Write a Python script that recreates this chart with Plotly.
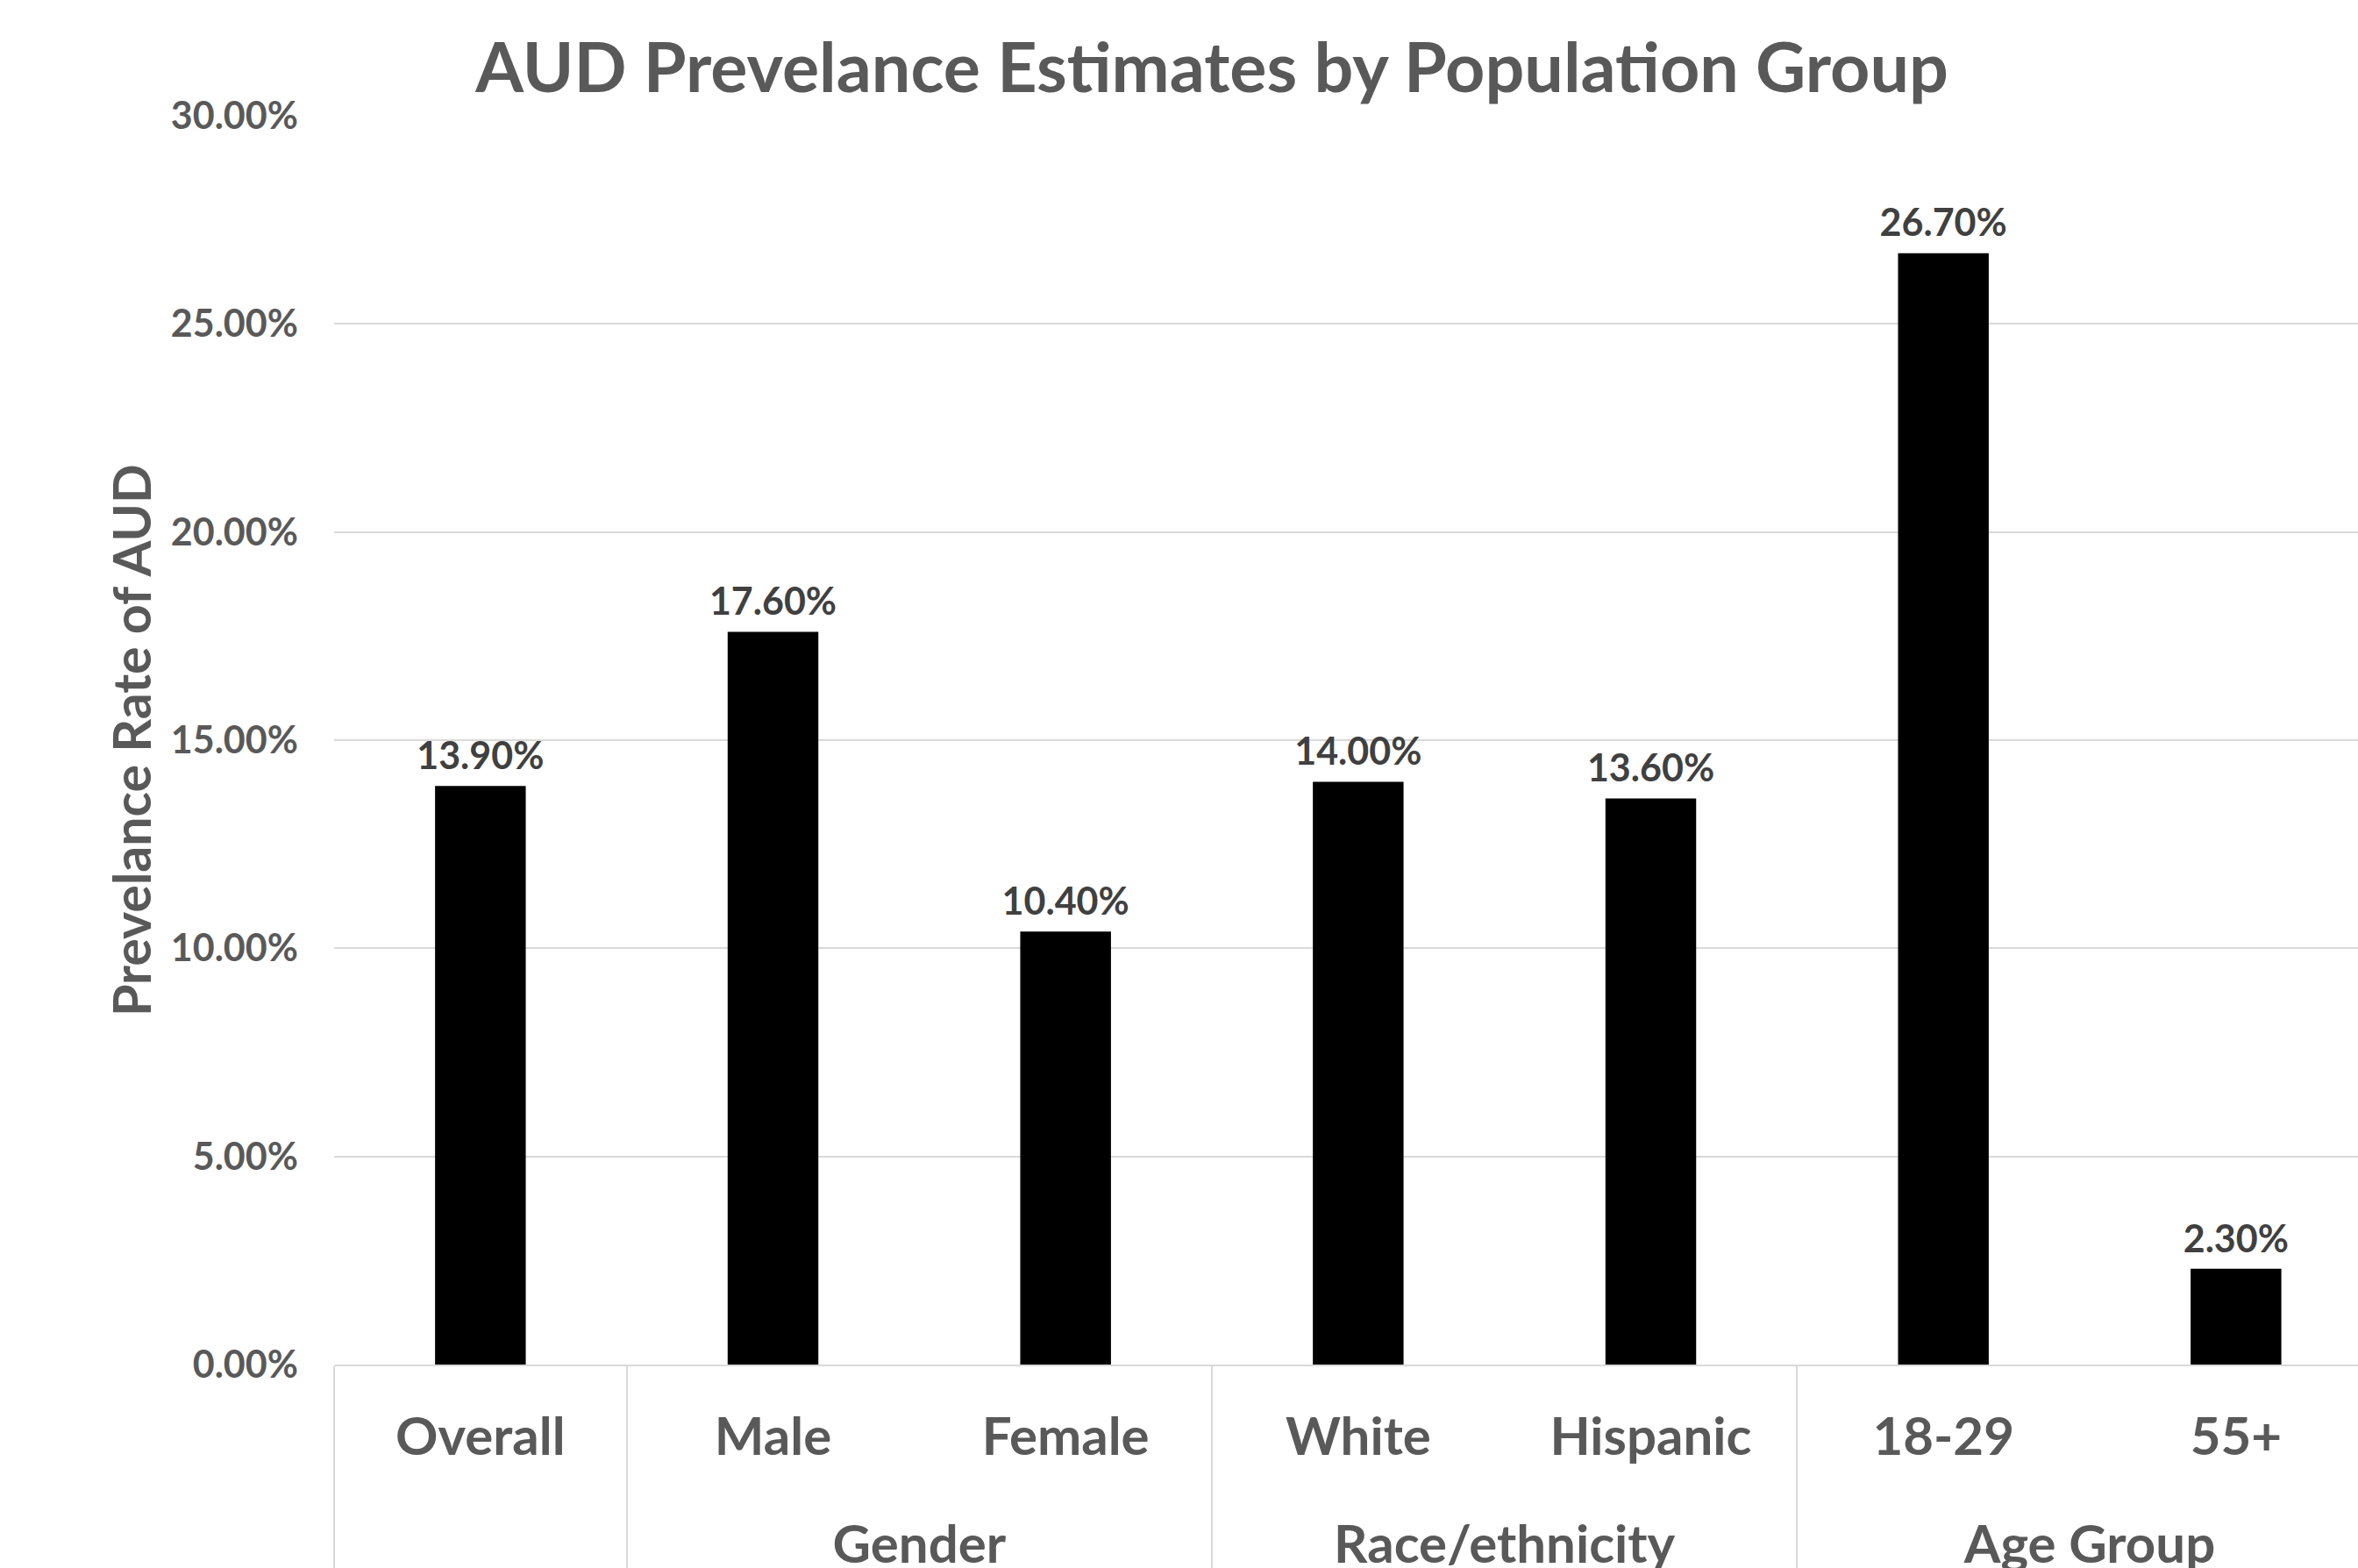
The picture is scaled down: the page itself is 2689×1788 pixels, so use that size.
import plotly.graph_objects as go

groups = ["", "Gender", "Gender", "Race/ethnicity", "Race/ethnicity", "Age Group", "Age Group"]
categories = ["Overall", "Male", "Female", "White", "Hispanic", "18-29", "55+"]
values = [13.9, 17.6, 10.4, 14.0, 13.6, 26.7, 2.3]
y_ticks = [0, 5, 10, 15, 20, 25, 30]
y_tick_labels = ["0.00%", "5.00%", "10.00%", "15.00%", "20.00%", "25.00%", "30.00%"]

FONT = "Lato"
GRAY = "#595959"
DARK = "#404040"

# group labels get a leading line break so they sit lower, as in the reference
group_labels = ["<br>" + g if g else g for g in groups]
x_cats = [group_labels, categories]

fig = go.Figure()
fig.add_trace(
    go.Bar(
        x=x_cats,
        y=values,
        marker=dict(color="#000000", line=dict(width=0)),
        hoverinfo="skip",
    )
)
fig.add_trace(
    go.Scatter(
        x=x_cats,
        y=values,
        mode="markers+text",
        marker=dict(size=12, color="rgba(0,0,0,0)"),
        text=[f"{v:.2f}%" for v in values],
        textposition="top center",
        textfont=dict(family=FONT, size=43, color=DARK, weight="bold"),
        cliponaxis=False,
        hoverinfo="skip",
    )
)

fig.update_layout(
    width=2689,
    height=1788,
    paper_bgcolor="white",
    plot_bgcolor="white",
    margin=dict(l=381, r=0, t=132, b=232, autoexpand=False),
    bargap=0.69,
    showlegend=False,
    title=dict(
        text="AUD Prevelance Estimates by Population Group",
        font=dict(family=FONT, size=79, color=GRAY, weight="bold"),
        x=0.514,
        xref="container",
        xanchor="center",
        y=1 - 77 / 1788,
        yref="container",
        yanchor="middle",
    ),
)

fig.update_yaxes(
    range=[0, 30],
    tickvals=y_ticks,
    ticktext=y_tick_labels,
    tickfont=dict(family=FONT, size=43, color=GRAY, weight="bold"),
    showgrid=True,
    gridcolor="#d9d9d9",
    gridwidth=2,
    zeroline=False,
    showline=False,
    ticks="",
    ticklabelstandoff=40,
    title=dict(
        text="Prevelance Rate of AUD",
        font=dict(family=FONT, size=59, color=GRAY, weight="bold"),
        standoff=3,
    ),
)

fig.update_xaxes(
    type="multicategory",
    range=[-0.5, 6.417],
    tickfont=dict(family=FONT, size=60, color=GRAY, weight="bold"),
    showline=True,
    linecolor="#d9d9d9",
    linewidth=2,
    showdividers=True,
    dividercolor="#d9d9d9",
    dividerwidth=2,
    ticks="",
    ticklabelstandoff=29,
    showgrid=False,
)

fig.write_html("out.html")
